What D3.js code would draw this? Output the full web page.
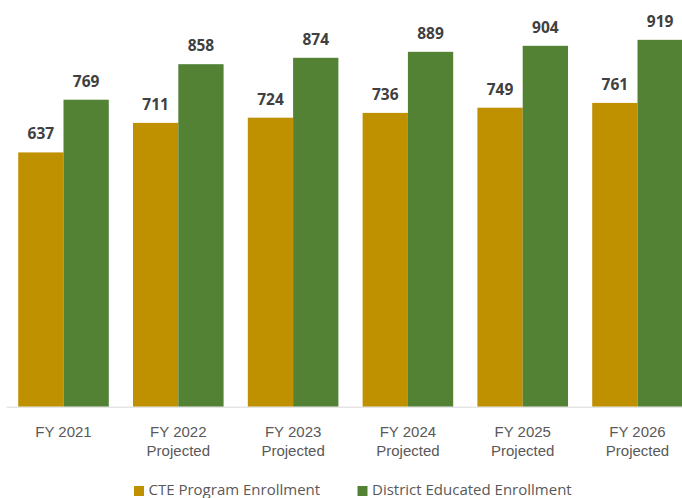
<!DOCTYPE html>
<html>
<head>
<meta charset="utf-8">
<script src="https://cdn.jsdelivr.net/npm/d3@7"></script>
<style>
  html, body { margin: 0; padding: 0; background: #fff; }
  svg { display: block; font-family: "Open Sans", "Noto Sans", sans-serif; }
</style>
</head>
<body>
<svg id="chart" width="682" height="498"></svg>
<script>
// Enrollment by fiscal year: actual FY 2021, projections after
const years = ["FY 2021", "FY 2022", "FY 2023", "FY 2024", "FY 2025", "FY 2026"];
const subLabels = ["", "Projected", "Projected", "Projected", "Projected", "Projected"];
const seriesNames = ["CTE Program Enrollment", "District Educated Enrollment"];
const cteEnrollment = [637, 711, 724, 736, 749, 761];
const districtEnrollment = [769, 858, 874, 889, 904, 919];
const seriesColors = ["#BF9000", "#548235"];

const svg = d3.select("#chart");

const baseY = 406.7;
const x0 = d3.scaleBand()
  .domain(years)
  .range([6.1, 6.1 + 6 * 114.8])
  .paddingInner(0.211)
  .paddingOuter(0.1055);

const x1 = d3.scaleBand()
  .domain(seriesNames)
  .range([0, x0.bandwidth()]);

const y = d3.scaleLinear()
  .domain([0, 1000])
  .range([baseY, baseY - 399.2]);

const rows = years.map((yr, i) => ({
  year: yr,
  values: [
    { name: seriesNames[0], value: cteEnrollment[i], color: seriesColors[0] },
    { name: seriesNames[1], value: districtEnrollment[i], color: seriesColors[1] }
  ]
}));

const groups = svg.append("g").selectAll("g")
  .data(rows)
  .join("g")
  .attr("transform", d => `translate(${x0(d.year)},0)`);

groups.selectAll("rect")
  .data(d => d.values)
  .join("rect")
  .attr("x", d => x1(d.name))
  .attr("y", d => y(d.value))
  .attr("width", x1.bandwidth())
  .attr("height", d => y(0) - y(d.value))
  .attr("fill", d => d.color);

groups.selectAll("text.val")
  .data(d => d.values)
  .join("text")
  .attr("class", "val")
  .attr("x", d => x1(d.name) + x1.bandwidth() / 2)
  .attr("y", d => y(d.value) - 13)
  .attr("text-anchor", "middle")
  .attr("font-size", 15.5)
  .attr("font-weight", 700)
  .attr("fill", "#404040")
  .text(d => d.value);

// Category axis
const axis = svg.append("g")
  .attr("transform", `translate(0,${baseY})`)
  .call(d3.axisBottom(x0).tickSize(0).tickSizeOuter(0).tickFormat(""));
axis.select(".domain").attr("stroke", "#D9D9D9").attr("stroke-width", 1);

axis.selectAll(".tick").each(function(d, i) {
  const t = d3.select(this).append("text")
    .attr("text-anchor", "middle")
    .attr("fill", "#595959")
    .attr("font-size", 15);
  t.append("tspan").attr("x", 0).attr("y", 30).text(d);
  if (subLabels[i]) t.append("tspan").attr("x", 0).attr("y", 49.5).text(subLabels[i]);
});

// Legend
const legendX = [134, 357.5];
const legend = svg.append("g").selectAll("g")
  .data(seriesNames)
  .join("g")
  .attr("transform", (d, i) => `translate(${legendX[i]},0)`);
legend.append("rect")
  .attr("x", 0).attr("y", 486)
  .attr("width", 10).attr("height", 10)
  .attr("fill", (d, i) => seriesColors[i]);
legend.append("text")
  .attr("x", 14.5).attr("y", 494.5)
  .attr("font-size", 15)
  .attr("fill", "#595959")
  .text(d => d);
</script>
</body>
</html>
